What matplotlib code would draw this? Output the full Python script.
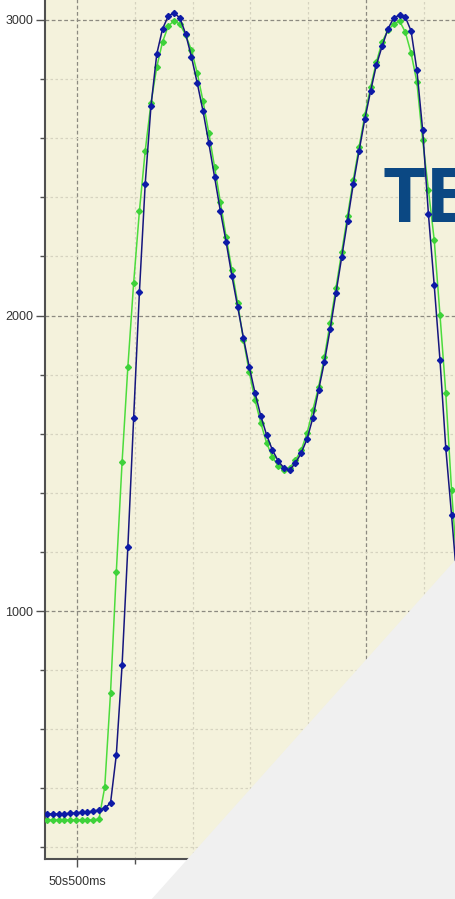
import matplotlib
matplotlib.use("Agg")
import matplotlib.pyplot as plt
from matplotlib.patches import Polygon
from matplotlib.ticker import MultipleLocator, FixedLocator, FuncFormatter

# ---------------- data ----------------
times_ms = [50448 + 10 * i for i in range(72)]

blue_vals = [313, 313, 313, 313, 316, 316, 319, 319, 323, 326,
             333, 350, 513, 817, 1217, 1653, 2080, 2445, 2709, 2885,
             2970, 3014, 3024, 3007, 2953, 2875, 2787, 2692, 2584, 2469,
             2354, 2249, 2134, 2029, 1924, 1826, 1738, 1660, 1596, 1545,
             1508, 1484, 1477, 1501, 1535, 1582, 1653, 1748, 1843, 1954,
             2076, 2198, 2320, 2445, 2557, 2665, 2760, 2848, 2912, 2970,
             3007, 3017, 3010, 2963, 2831, 2628, 2343, 2103, 1849, 1552,
             1325, 1088]

green_vals = [293, 293, 293, 293, 293, 293, 293, 293, 293, 296,
              404, 723, 1132, 1504, 1826, 2110, 2354, 2557, 2719, 2841,
              2926, 2980, 2997, 2986, 2949, 2898, 2821, 2726, 2618, 2503,
              2384, 2266, 2154, 2042, 1917, 1809, 1714, 1636, 1569, 1521,
              1491, 1477, 1484, 1511, 1545, 1602, 1680, 1758, 1860, 1975,
              2093, 2215, 2337, 2459, 2570, 2679, 2773, 2858, 2926, 2966,
              2986, 2997, 2959, 2888, 2790, 2594, 2425, 2256, 2002, 1738,
              1410, 1139]

y_major_ticks = [1000, 2000, 3000]
x_major_ticks = [50500, 51000]
overlay_text = "TE"

# ---------------- figure ----------------
W, H = 456, 899
fig = plt.figure(figsize=(W / 100, H / 100), dpi=100)
fig.patch.set_facecolor("white")

px_per_ms = 0.578
px_per_unit = 0.2955
left_px, bottom_px = 45, 859
right_px, top_px = 700, -60

ax = fig.add_axes([left_px / W, (H - bottom_px) / H,
                   (right_px - left_px) / W, (bottom_px - top_px) / H])
ax.set_facecolor("#f4f2dc")

x0 = 50500 - (77 - left_px) / px_per_ms
ax.set_xlim(x0, x0 + (right_px - left_px) / px_per_ms)
y0 = 1000 - (bottom_px - 611) / px_per_unit
ax.set_ylim(y0, y0 + (bottom_px - top_px) / px_per_unit)

# grid
ax.yaxis.set_major_locator(FixedLocator(y_major_ticks))
ax.yaxis.set_minor_locator(MultipleLocator(200))
ax.xaxis.set_major_locator(FixedLocator(x_major_ticks))
ax.xaxis.set_minor_locator(MultipleLocator(100))
ax.grid(which="minor", color="#d6d3c0", linestyle=(0, (2, 2)), linewidth=0.9)
ax.grid(which="major", color="#8c8a80", linestyle=(0, (3, 2)), linewidth=0.9)
ax.set_axisbelow(True)

def fmt_ms(v, pos):
    v = int(round(v))
    return f"{v // 1000}s{v % 1000:03d}ms"

ax.xaxis.set_major_formatter(FuncFormatter(fmt_ms))

for s in ("top", "right"):
    ax.spines[s].set_visible(False)
for s in ("left", "bottom"):
    ax.spines[s].set_color("#505050")
    ax.spines[s].set_linewidth(1.5)

ax.tick_params(which="major", axis="y", length=6.5, width=1.0, color="#505050",
               labelsize=9, labelcolor="#333333", pad=2)
ax.tick_params(which="minor", axis="y", length=3.6, width=1.0, color="#505050")
ax.tick_params(which="major", axis="x", length=6, width=1.0, color="#505050",
               labelsize=9, labelcolor="#333333", pad=6)
ax.tick_params(which="minor", axis="x", length=3.5, width=1.0, color="#505050")
ax.xaxis.set_minor_formatter(FuncFormatter(lambda v, p: ""))
for lab in ax.get_xticklabels() + ax.get_yticklabels():
    lab.set_family(["Liberation Sans", "DejaVu Sans"])

# series
ax.plot(times_ms, green_vals, color="#4cdc3c", linewidth=1.1,
        marker="D", markersize=3.0, markerfacecolor="#3ed23a",
        markeredgecolor="#3ed23a", zorder=3, clip_on=True)
ax.plot(times_ms, blue_vals, color="#16167e", linewidth=1.1,
        marker="D", markersize=3.1, markerfacecolor="#0d1aa6",
        markeredgecolor="#0d1aa6", zorder=4, clip_on=True)

# ---------------- overlay ----------------
ov = fig.add_axes([0, 0, 1, 1], zorder=10)
ov.set_xlim(0, W)
ov.set_ylim(H, 0)
ov.axis("off")
ov.patch.set_visible(False)
tri = Polygon([(150, H + 2), (W + 2, 557), (W + 2, H + 2)], closed=True,
              facecolor="#f0f0f0", edgecolor="none")
ov.add_patch(tri)
ov.text(383, 222, overlay_text, fontsize=54, fontweight="bold",
        family=["Open Sans", "DejaVu Sans"], color="#0b4883",
        ha="left", va="baseline")

fig.savefig("out.png", dpi=100)
